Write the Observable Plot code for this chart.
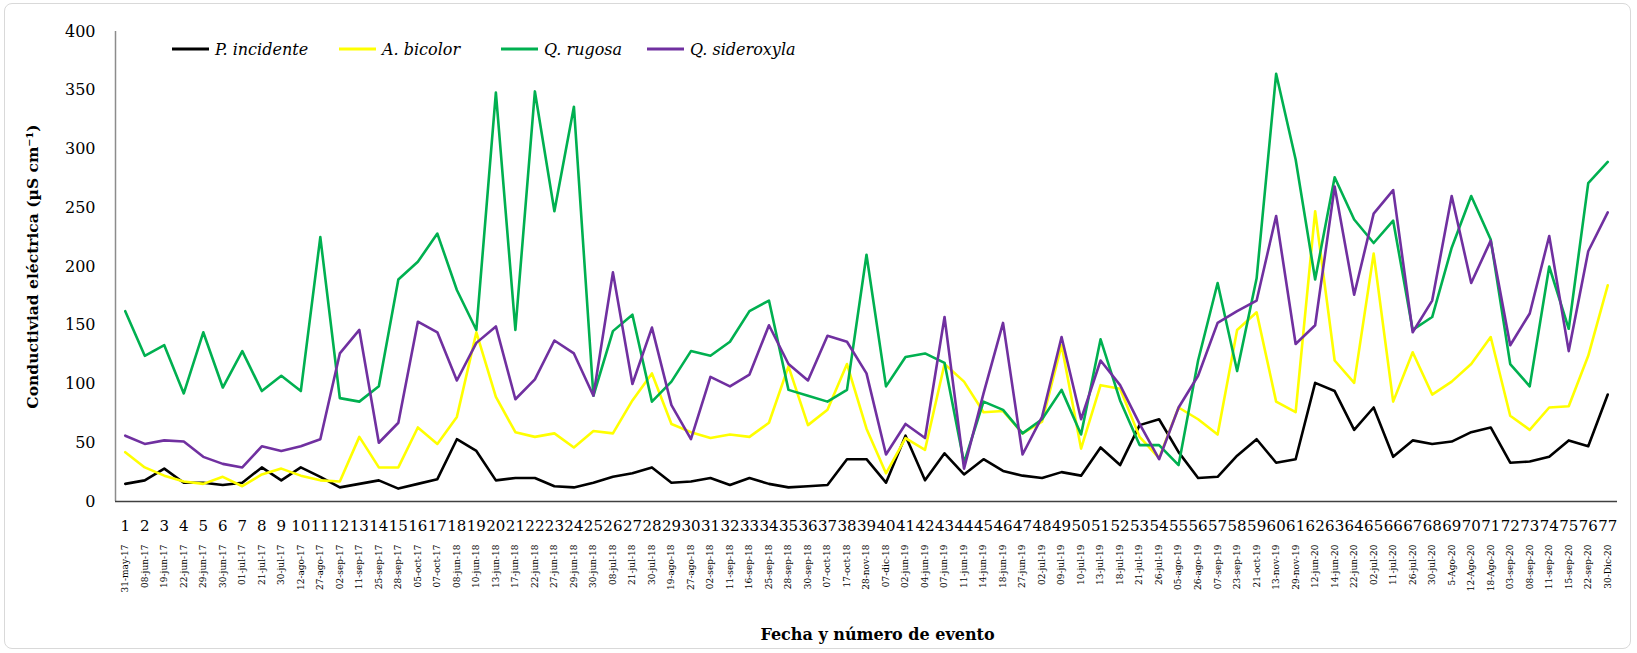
<!DOCTYPE html>
<html><head><meta charset="utf-8">
<script src="https://cdn.jsdelivr.net/npm/d3@7"></script>
<script src="https://cdn.jsdelivr.net/npm/@observablehq/plot@0.6"></script>
<style>
body{margin:0;background:#fff;}
#wrap{position:relative;width:1637px;height:653px;overflow:hidden;background:#fff;}
#frame{position:absolute;left:4px;top:3px;width:1627px;height:646px;border:1px solid #d9d9d9;border-radius:8px;box-sizing:border-box;pointer-events:none;}
.leg{position:absolute;top:38px;height:22px;display:flex;align-items:center;font-family:"DejaVu Serif";font-style:italic;font-size:16px;color:#000;white-space:nowrap;}
.leg svg{margin-right:6px;}
</style></head>
<body>
<div id="wrap"><div id="frame"></div></div>
<script>
const events = d3.range(1, 78);
const dates = ["31-may-17","08-jun-17","19-jun-17","22-jun-17","29-jun-17","30-jun-17","01-jul-17","21-jul-17","30-jul-17","12-ago-17","27-ago-17","02-sep-17","11-sep-17","25-sep-17","28-sep-17","05-oct-17","07-oct-17","08-jun-18","10-jun-18","13-jun-18","17-jun-18","22-jun-18","27-jun-18","29-jun-18","30-jun-18","08-jul-18","21-jul-18","30-jul-18","19-ago-18","27-ago-18","02-sep-18","11-sep-18","16-sep-18","25-sep-18","28-sep-18","30-sep-18","07-oct-18","17-oct-18","28-nov-18","07-dic-18","02-jun-19","04-jun-19","07-jun-19","11-jun-19","14-jun-19","18-jun-19","27-jun-19","02-jul-19","09-jul-19","10-jul-19","13-jul-19","18-jul-19","21-jul-19","26-jul-19","05-ago-19","26-ago-19","07-sep-19","23-sep-19","21-oct-19","13-nov-19","29-nov-19","12-jun-20","14-jun-20","22-jun-20","02-jul-20","11-jul-20","26-jul-20","30-jul-20","5-Ago-20","12-Ago-20","18-Ago-20","03-sep-20","08-sep-20","11-sep-20","15-sep-20","22-sep-20","30-Dic-20"];
const pIncidente = [15,18,28,16,16,14,16,29,18,29,21,12,15,18,11,15,19,53,43,18,20,20,13,12,16,21,24,29,16,17,20,14,20,15,12,13,14,36,36,16,56,18,41,23,36,26,22,20,25,22,46,31,65,70,42,20,21,39,53,33,36,101,94,61,80,38,52,49,51,59,63,33,34,38,52,47,91];
const aBicolor = [42,29,22,17,15,21,13,23,28,22,18,17,55,29,29,63,49,72,144,89,59,55,58,46,60,58,86,109,66,59,54,57,55,67,115,65,78,117,62,24,54,44,117,102,76,77,58,68,133,45,99,96,55,37,80,70,57,146,161,85,76,247,120,101,211,85,127,91,102,117,140,73,61,80,81,124,184];
const qRugosa = [162,124,133,92,144,97,128,94,107,94,225,88,85,98,189,204,228,180,146,348,146,349,247,336,90,145,159,85,102,128,124,136,162,171,95,90,85,95,210,98,123,126,118,33,85,78,58,70,95,57,138,86,48,48,31,120,186,111,190,364,291,189,276,240,220,239,146,157,216,260,223,117,98,200,147,271,289];
const qSideroxyla = [56,49,52,51,38,32,29,47,43,47,53,126,146,50,67,153,144,103,135,149,87,104,137,126,90,195,100,148,82,53,106,98,108,150,117,103,141,136,109,40,66,54,157,28,92,152,40,72,140,70,120,99,66,36,80,107,152,162,171,243,134,150,268,176,245,265,144,171,260,186,222,133,160,226,128,213,246];
const yTicks = [0,50,100,150,200,250,300,350,400];
const seriesNames = ["P. incidente","A. bicolor","Q. rugosa","Q. sideroxyla"];
const seriesValues = [pIncidente, aBicolor, qRugosa, qSideroxyla];
const seriesColors = ["#000000","#FFFF00","#00B050","#7030A0"];
const yTitle = "Conductiviad eléctrica (µS cm⁻¹)";
const xTitle = "Fecha y número de evento";

const dateTable = events.map((n, i) => ({n, date: dates[i]}));
const lineMarks = seriesValues.map((vals, k) =>
  Plot.line(vals.map((v, i) => ({n: events[i], v})), {x: "n", y: "v", stroke: seriesColors[k], strokeWidth: 2.6, strokeLinejoin: "round"})
);

const chart = Plot.plot({
  width: 1637, height: 653,
  marginLeft: 115, marginRight: 20, marginTop: 31, marginBottom: 152,
  x: {domain: [0.5, 77.5]},
  y: {domain: [0, 400]},
  style: {fontFamily: "DejaVu Serif", background: "transparent", color: "#000", overflow: "visible"},
  marks: [
    Plot.axisY({ticks: yTicks, tickSize: 0, tickPadding: 20, fontSize: 16, label: null}),
    Plot.axisX({ticks: events, tickSize: 0, tickPadding: 19, fontSize: 15, label: null, tickFormat: d => String(d)}),
    Plot.text(dateTable, {x: "n", y: 0, text: "date", rotate: -90, textAnchor: "end", dy: 43, fontSize: 9}),
    Plot.ruleX([0.5], {stroke: "#8c8c8c", strokeWidth: 1.5}),
    ...lineMarks,
    Plot.ruleY([0], {stroke: "#404040", strokeWidth: 1.5}),
    Plot.text([yTitle], {frameAnchor: "left", dx: -82, rotate: -90, textAnchor: "middle", lineAnchor: "middle", fontWeight: "bold", fontSize: 15.5}),
    Plot.text([xTitle], {frameAnchor: "bottom", dx: 11, dy: 133, textAnchor: "middle", lineAnchor: "middle", fontWeight: "bold", fontSize: 16})
  ]
});
chart.style.position = "absolute";
chart.style.left = "0px";
chart.style.top = "0px";
const wrap = document.getElementById("wrap");
wrap.insertBefore(chart, wrap.firstChild);

const legLeft = [172, 339, 501, 647];
seriesNames.forEach((name, k) => {
  const d = document.createElement("div");
  d.className = "leg";
  d.style.left = legLeft[k] + "px";
  d.innerHTML = `<svg width="37" height="6"><line x1="0" y1="3" x2="37" y2="3" stroke="${seriesColors[k]}" stroke-width="3"/></svg><span>${name}</span>`;
  wrap.appendChild(d);
});
</script>
</body></html>
